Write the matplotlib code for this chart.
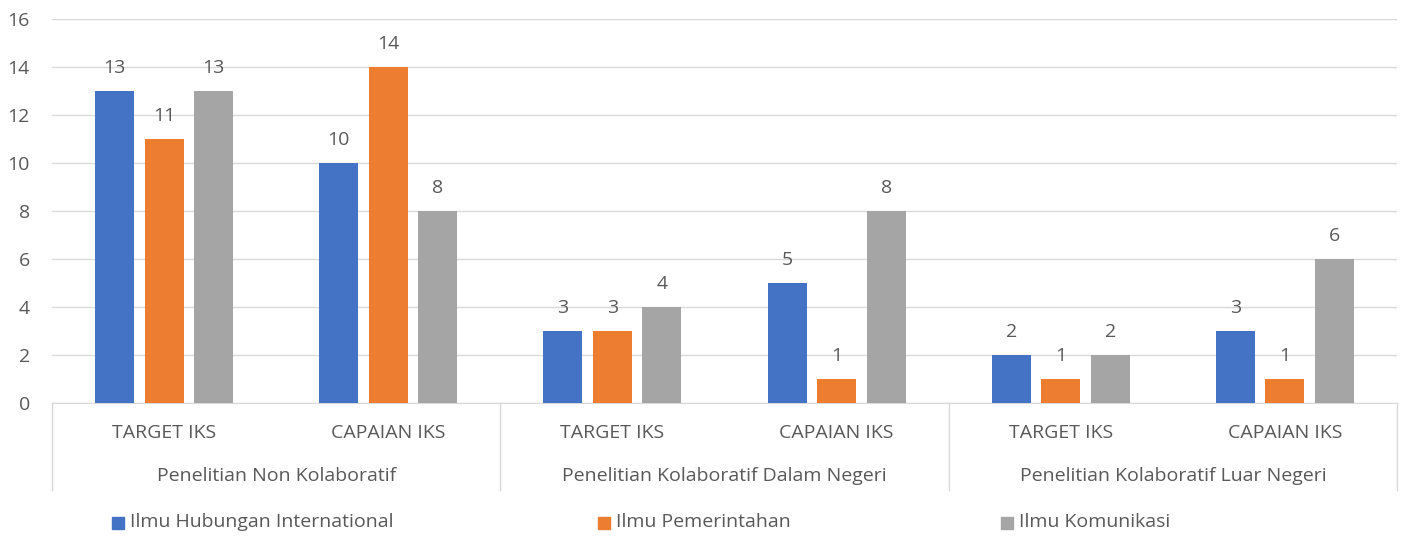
import matplotlib
matplotlib.use("Agg")
import matplotlib.pyplot as plt
import numpy as np
from matplotlib.transforms import blended_transform_factory
from matplotlib.lines import Line2D

plt.rcParams['font.family'] = ['Open Sans', 'DejaVu Sans']

groups = ["Penelitian Non Kolaboratif", "Penelitian Kolaboratif Dalam Negeri", "Penelitian Kolaboratif Luar Negeri"]
subcats = ["TARGET IKS", "CAPAIAN IKS"]
series = ["Ilmu Hubungan International", "Ilmu Pemerintahan", "Ilmu Komunikasi"]
hi = [13, 10, 3, 5, 2, 3]
ip = [11, 14, 3, 1, 1, 1]
ik = [13, 8, 4, 8, 2, 6]
values = [hi, ip, ik]
colors = ["#4472C4", "#ED7D31", "#A5A5A5"]
yticks = [0, 2, 4, 6, 8, 10, 12, 14, 16]

txt = "#595959"
FS = 14
fig = plt.figure(figsize=(14.02, 5.38), dpi=100)
W, H = 1402, 538
ax = fig.add_axes([52 / W, (H - 403) / H, (1397 - 52) / W, (403 - 19) / H])

n = len(groups) * len(subcats)
x = np.arange(n)
width = 0.174
offs = [-0.221, 0, 0.221]
for vals, c, o, name in zip(values, colors, offs, series):
    bars = ax.bar(x + o, vals, width=width, color=c, label=name, zorder=3)
    for b, v in zip(bars, vals):
        ax.annotate(str(v), (b.get_x() + b.get_width() / 2, v), xytext=(0, 10),
                    textcoords="offset points", ha="center", va="bottom",
                    fontsize=FS, color=txt)

ax.set_xlim(-0.5, n - 0.5)
ax.set_ylim(0, 16)
ax.set_yticks(yticks)
ax.set_yticklabels([str(t) for t in yticks], fontsize=FS, color=txt)
ax.tick_params(axis='y', length=0, pad=16)
ax.tick_params(axis='x', length=0, labelbottom=False)
ax.grid(axis='y', color="#D9D9D9", lw=1, zorder=0)
for s in ["top", "right", "left"]:
    ax.spines[s].set_visible(False)
ax.spines["bottom"].set_color("#D9D9D9")
ax.set_xticks([])

tr = blended_transform_factory(ax.transData, ax.transAxes)
ax_h = 403 - 19
def yax(py):
    return (403 - py) / ax_h

for i in range(n):
    ax.text(i, yax(433), subcats[i % 2], transform=tr, ha="center", va="center",
            fontsize=FS, color=txt, clip_on=False)
for g, name in enumerate(groups):
    ax.text(2 * g + 0.5, yax(476), name, transform=tr, ha="center", va="center",
            fontsize=FS, color=txt, clip_on=False)
for b in range(len(groups) + 1):
    ax.add_line(Line2D([2 * b - 0.5, 2 * b - 0.5], [0, yax(490)], transform=tr,
                       color="#D9D9D9", lw=1, clip_on=False))

leg_x = [112, 598, 1001]
for hx, c, name in zip(leg_x, colors, series):
    fig.patches.append(plt.Rectangle((hx / W, (H - 529) / H), 12 / W, 12 / H,
                                     color=c, transform=fig.transFigure, figure=fig))
    fig.text((hx + 18) / W, (H - 522) / H, name, ha="left", va="center",
             fontsize=FS, color=txt)

fig.savefig("out.png", dpi=100)
